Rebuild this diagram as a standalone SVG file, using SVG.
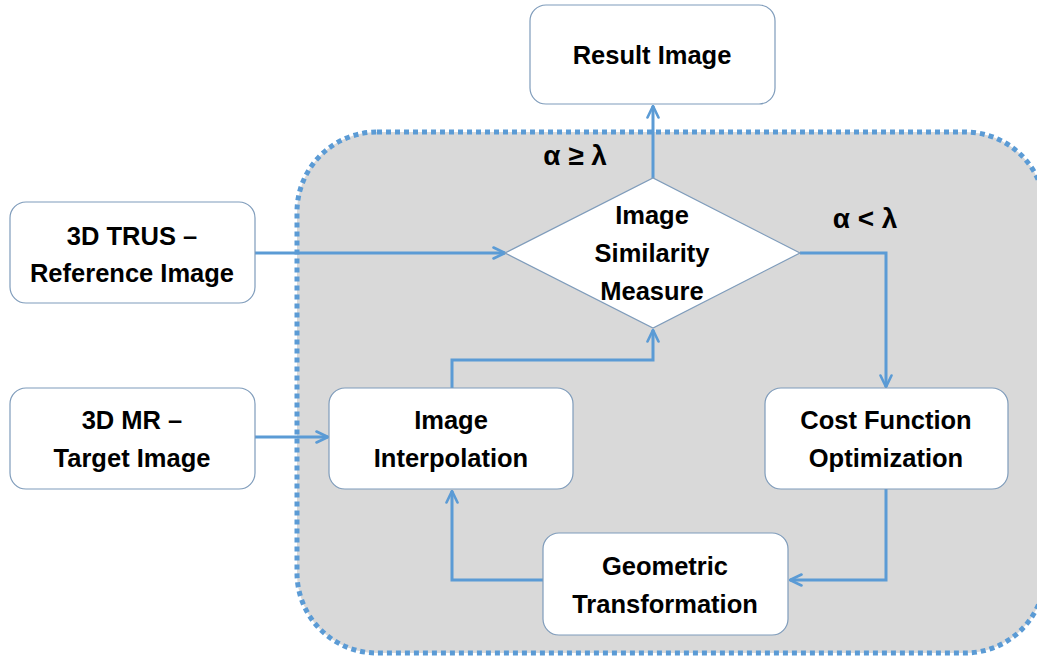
<svg xmlns="http://www.w3.org/2000/svg" width="1037" height="659" viewBox="0 0 1037 659">
<defs>
<marker id="arr" viewBox="0 0 14 14" refX="13" refY="7" markerWidth="14" markerHeight="14" markerUnits="userSpaceOnUse" orient="auto">
<path d="M1.5,1.5 L13,7 L1.5,12.5" fill="none" stroke="#5b9bd5" stroke-width="2.6" stroke-linecap="round" stroke-linejoin="round"/>
</marker>
</defs>
<style>
.box{fill:#ffffff;stroke:#7f9cbb;stroke-width:1.2}
.t{font-family:"Liberation Sans",Arial,sans-serif;font-weight:bold;font-size:25.5px;fill:#000;text-anchor:middle}
.lab{font-size:28px}
.c{fill:none;stroke:#5b9bd5;stroke-width:3;marker-end:url(#arr)}
</style>
<rect width="1037" height="659" fill="#ffffff"/>
<g id="container">
<rect x="297" y="132" width="748" height="521" rx="80" ry="80" fill="#d9d9d9" stroke="#5b9bd5" stroke-width="5" stroke-dasharray="5 4"/>
</g>
<g id="connectors">
<path class="c" d="M255,253 H505"/>
<path class="c" d="M653,178 V106"/>
<path class="c" d="M800,253 H886 V387"/>
<path class="c" d="M886,489 V580 H790"/>
<path class="c" d="M543,580 H452 V491"/>
<path class="c" d="M452,388 V360 H653 V330"/>
<path class="c" d="M255,437 H328"/>
</g>
<g id="result">
<rect class="box" x="530" y="5" width="245" height="99" rx="16"/>
<text class="t" x="652" y="64">Result Image</text>
</g>
<g id="trus">
<rect class="box" x="10" y="202" width="245" height="101" rx="16"/>
<text class="t" x="132" y="245">3D TRUS –</text>
<text class="t" x="132" y="282">Reference Image</text>
</g>
<g id="mr">
<rect class="box" x="10" y="388" width="245" height="101" rx="16"/>
<text class="t" x="132" y="429">3D MR –</text>
<text class="t" x="132" y="467">Target Image</text>
</g>
<g id="similarity">
<polygon class="box" points="505,253 653,178 800,253 653,328"/>
<text class="t" x="652" y="224">Image</text>
<text class="t" x="652" y="262">Similarity</text>
<text class="t" x="652" y="300">Measure</text>
</g>
<g id="interp">
<rect class="box" x="329" y="388" width="244" height="101" rx="16"/>
<text class="t" x="451" y="429">Image</text>
<text class="t" x="451" y="467">Interpolation</text>
</g>
<g id="cost">
<rect class="box" x="765" y="388" width="243" height="101" rx="16"/>
<text class="t" x="886" y="429">Cost Function</text>
<text class="t" x="886" y="467">Optimization</text>
</g>
<g id="geo">
<rect class="box" x="543" y="533" width="245" height="102" rx="16"/>
<text class="t" x="665" y="575">Geometric</text>
<text class="t" x="665" y="613">Transformation</text>
</g>
<g id="labels">
<text class="t lab" x="575" y="165">α ≥ λ</text>
<text class="t lab" x="865" y="228">α &lt; λ</text>
</g>
</svg>
